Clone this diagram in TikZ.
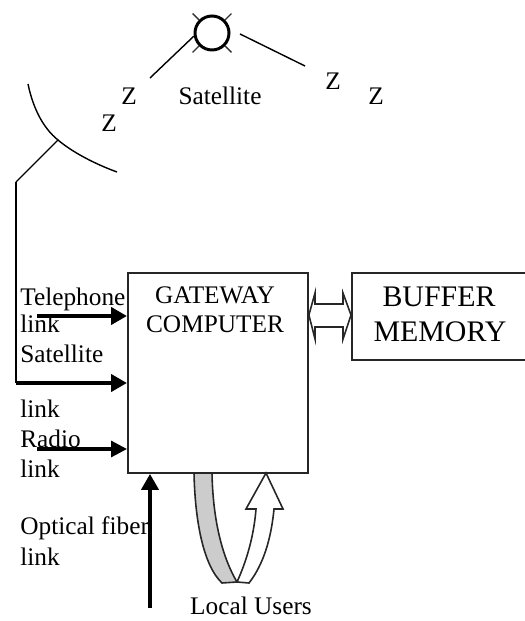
\documentclass[tikz,border=0pt]{standalone}
\usepackage{fontspec}
\setmainfont{Liberation Serif}
\usetikzlibrary{arrows.meta}
\tikzset{
  boxnode/.style={draw=black!85, line width=1.1pt, anchor=north west, inner sep=0pt},
  txt/.style={font=\fontsize{14.4}{16}\selectfont, inner sep=0pt},
  linktxt/.style={txt, anchor=base west},
  bigtxt/.style={font=\fontsize{17}{20}\selectfont, inner sep=0pt, anchor=base},
  thin line/.style={line width=0.8pt},
  feed/.style={line width=2.8pt, -{Triangle[length=0.32cm,width=0.34cm]}},
  feedthin/.style={line width=1.8pt, -{Triangle[length=0.32cm,width=0.32cm]}},
  outline/.style={draw=black!85, line width=0.9pt, line join=miter}
}
\begin{document}
\begin{tikzpicture}[x=0.02cm, y=-0.02cm]
  \useasboundingbox (0,0) rectangle (524,621);
  \fill[white] (0,0) rectangle (524,621);
  %% Boxes
  \node[boxnode, minimum width=3.6cm, minimum height=4cm] (gateway) at (127,272) {};
  \node[boxnode, minimum width=3.8cm, minimum height=1.74cm] (buffer) at (351,272) {};
  \node[txt, anchor=base] (gatewaya) at (215,303) {GATEWAY};
  \node[txt, anchor=base] (gatewayb) at (215,332) {COMPUTER};
  \node[bigtxt] (buffera) at (439,306) {BUFFER};
  \node[bigtxt] (bufferb) at (440,341) {MEMORY};
  %% Satellite
  \node[circle, draw, line width=1.7pt, minimum size=0.68cm, inner sep=0pt] (sat) at (212,33) {};
  \foreach \a in {45,135,225,315}
    \draw[black!80, thin line] (sat.\a) -- ++(-\a:9);
  \coordinate (beamla) at (150,78);
  \coordinate (beamrb) at (305,66);
  \coordinate (beamra) at (240,34);
  \draw[thin line] (sat.190) -- (beamla);
  \draw[thin line] (beamra) -- (beamrb);
  \node[txt] (satlabel) at (220,96) {Satellite};
  \node[txt] (za) at (129,96) {Z};
  \node[txt] (zb) at (109,123) {Z};
  \node[txt] (zc) at (333,81) {Z};
  \node[txt] (zd) at (376,96) {Z};
  %% Dish
  \draw[thin line] (28,84) .. controls (33,108) and (43,128) .. (58,140)
                   .. controls (72,152) and (95,164) .. (117,172);
  \coordinate (dish) at (58,140);
  \coordinate (feedbend) at (16,182);
  \coordinate (feedcorner) at (16,383);
  \draw[thin line] (dish) -- (feedbend);
  \draw[line width=1.1pt] (feedbend) -- (feedcorner);
  %% Links
  \coordinate (telstart) at (37,316);
  \coordinate (radstart) at (37,449);
  \coordinate (optstart) at (150,608);
  \draw[feed] (feedcorner) ++(-0.5,0) -- (gateway.west |- feedcorner);
  \draw[feed] (telstart) -- (gateway.west |- telstart);
  \draw[feedthin] (radstart) -- (gateway.west |- radstart);
  \draw[feed] (optstart) -- (optstart |- gateway.south);
  \node[linktxt] (tela) at (20,305) {Telephone};
  \node[linktxt] (telb) at (20,332) {link};
  \node[linktxt] (sata) at (20,362) {Satellite};
  \node[linktxt] (satb) at (20,417) {link};
  \node[linktxt] (rada) at (20,447) {Radio};
  \node[linktxt] (radb) at (20,477) {link};
  \node[linktxt] (opta) at (20,534) {Optical fiber};
  \node[linktxt] (optb) at (20,565) {link};
  %% Double arrow to memory
  \draw[outline, fill=white] (gateway.east |- 0,315) -- (315,293) -- (315,304) -- (343,304) -- (343,293)
        -- (buffer.west |- 0,315) -- (343,339) -- (343,327) -- (315,327) -- (315,339) -- cycle;
  %% Local users loop
  \draw[outline, fill=black!20] (194,473) .. controls (195,520) and (203,565) .. (222,583)
        -- (237,582) .. controls (224,560) and (213,525) .. (212,473) -- cycle;
  \draw[outline, fill=white] (237,582) .. controls (247,560) and (254,535) .. (256,509)
        -- (246,509) -- (266,473) -- (283,509) -- (274,509)
        .. controls (271,540) and (263,565) .. (249,583) -- cycle;
  \node[txt] (users) at (251,606) {Local Users};
\end{tikzpicture}
\end{document}
